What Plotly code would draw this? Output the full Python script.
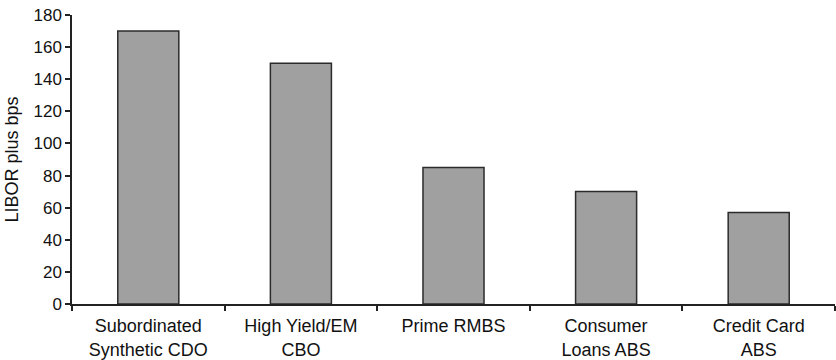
import plotly.graph_objects as go

# Spread over LIBOR by asset class
categories = [
    "Subordinated<br>Synthetic CDO",
    "High Yield/EM<br>CBO",
    "Prime RMBS",
    "Consumer<br>Loans ABS",
    "Credit Card<br>ABS",
]
spreads_bps = [170, 150, 85, 70, 57]
y_ticks = [0, 20, 40, 60, 80, 100, 120, 140, 160, 180]

FONT = "Liberation Sans, Arial, Helvetica, sans-serif"

fig = go.Figure(
    go.Bar(
        x=categories,
        y=spreads_bps,
        width=0.4,
        marker=dict(color="#a0a0a0", line=dict(color="#2b2b2b", width=1.5)),
        hoverinfo="skip",
    )
)

fig.update_layout(
    width=836,
    height=360,
    margin=dict(l=72, r=1, t=15, b=56),
    paper_bgcolor="white",
    plot_bgcolor="white",
    showlegend=False,
    font=dict(family=FONT, size=17, color="#111"),
)

fig.update_xaxes(
    automargin=False,
    showline=True,
    linecolor="#222",
    linewidth=1.5,
    ticks="outside",
    tickson="boundaries",
    ticklen=5,
    tickwidth=1.5,
    tickcolor="#222",
    showgrid=False,
    ticklabelstandoff=5,
    tickfont=dict(family=FONT, size=18, color="#111"),
)

fig.update_yaxes(
    automargin=False,
    range=[0, 180],
    tickvals=y_ticks,
    showline=True,
    linecolor="#222",
    linewidth=1.5,
    ticks="outside",
    ticklen=5,
    tickwidth=1.5,
    tickcolor="#222",
    showgrid=False,
    zeroline=False,
    tickfont=dict(family=FONT, size=17, color="#111"),
    title=dict(text="LIBOR plus bps", font=dict(family=FONT, size=18, color="#111"), standoff=10),
)

fig.write_html("out.html")
